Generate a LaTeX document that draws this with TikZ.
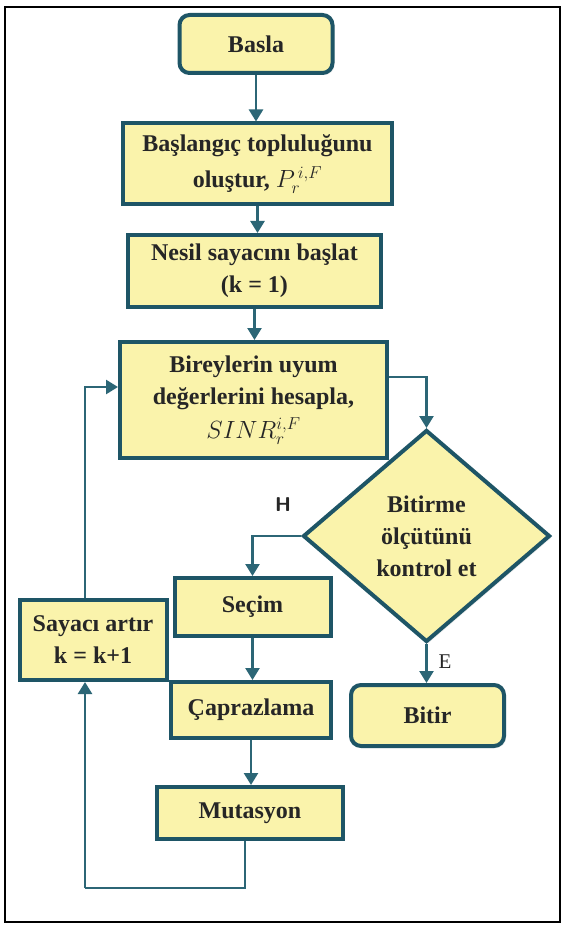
\documentclass[tikz,border=0pt]{standalone}
\usepackage{fontspec}
\setmainfont{Liberation Serif}
\usetikzlibrary{shapes.geometric,arrows.meta,shadows}
\definecolor{boxfill}{HTML}{FAF3AB}
\definecolor{boxdraw}{HTML}{1E5566}
\definecolor{conncol}{HTML}{2C6676}
\definecolor{txt}{HTML}{262626}
\tikzset{
  box/.style={draw=boxdraw, fill=boxfill, line width=4pt, align=center, text=txt,
    font=\fontsize{24}{32}\selectfont\bfseries, inner sep=2pt,
    drop shadow={opacity=0.12, shadow xshift=2pt, shadow yshift=-2pt}},
  term/.style={box, rounded corners=10pt},
  decision/.style={box, diamond, aspect=1.165, inner sep=0pt},
  conn/.style={draw=conncol, line width=2.5pt, -{Triangle[width=14pt,length=12pt]}},
  line/.style={draw=conncol, line width=2.5pt},
  lbl/.style={text=txt, font=\fontsize{21}{24}\selectfont}
}
\begin{document}
\begin{tikzpicture}[x=1pt,y=-1pt]
\useasboundingbox (0,0) rectangle (565,925);
\fill[white] (0,0) rectangle (565,925);
\draw[line width=2.5pt, black] (5,7) rectangle (560,922);

\node[term, minimum width=153pt, minimum height=58pt] (basla) at (256,44) {Basla};
\node[box, minimum width=269pt, minimum height=81pt] (init) at (257.5,164) {Başlangıç topluluğunu\\[4pt]oluştur, $P_r^{\,i,F}$};
\node[box, minimum width=253pt, minimum height=72pt] (nesil) at (254.5,271) {Nesil sayacını başlat\\(k = 1)};
\node[box, minimum width=267pt, minimum height=116pt] (fit) at (253.5,400) {Bireylerin uyum\\değerlerini hesapla,\\[2pt]$SINR_r^{i,F}$};
\node[decision, minimum width=247pt, minimum height=212pt] (dec) at (426.5,536) {Bitirme\\ölçütünü\\kontrol et};
\node[box, minimum width=156pt, minimum height=58pt] (sec) at (252.5,607) {Seçim};
\node[box, minimum width=147pt, minimum height=80pt] (say) at (93,640) {Sayacı artır\\k = k+1};
\node[box, minimum width=160pt, minimum height=56pt] (cap) at (251,710) {Çaprazlama};
\node[box, minimum width=186pt, minimum height=52pt] (mut) at (250,813) {Mutasyon};
\node[term, minimum width=153pt, minimum height=61pt] (bitir) at (427.5,715.5) {Bitir};

\node[lbl, font=\fontsize{20}{24}\selectfont\bfseries\sffamily] (h) at (283,505) {H};
\node[lbl] (e) at (445,662) {E};

\coordinate (lb) at (85,888);

\draw[conn] (basla.south) -- (basla.south |- init.north);
\draw[conn] (init.south) -- (init.south |- nesil.north);
\draw[conn] (nesil.south) -- (nesil.south |- fit.north);
\draw[conn] ([yshift=23pt]fit.east) -| (dec.north);
\draw[conn] (dec.west) -| (sec.north);
\draw[conn] (sec.south) -- (sec.south |- cap.north);
\draw[conn] (cap.south) -- (cap.south |- mut.north);
\draw[conn] (dec.south) -- (dec.south |- bitir.north);
\draw[line] ([xshift=-5pt]mut.south) |- (lb);
\draw[conn] (lb) -- (lb |- say.south);
\draw[conn] (lb |- say.north) |- ([yshift=13pt]fit.west);
\end{tikzpicture}
\end{document}
